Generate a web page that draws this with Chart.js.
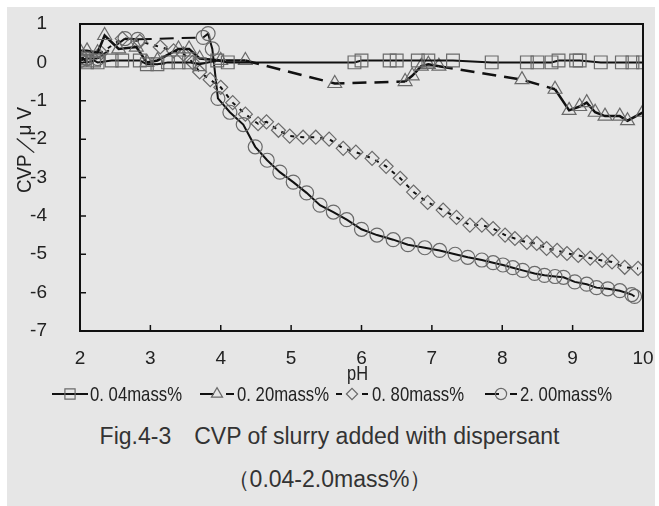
<!DOCTYPE html>
<html>
<head>
<meta charset="utf-8">
<script src="https://cdn.jsdelivr.net/npm/chart.js@4.4.0/dist/chart.umd.min.js"></script>
<style>
  body { margin: 0; background: #fff; }
  #wrap { position: absolute; left: 7px; top: 7px; width: 648px; height: 499px; background: #e6e6e6; }
  #chart { position: absolute; left: 0; top: 0; }
  .cap { position: absolute; left: 0; width: 659px; text-align: center; font-family: "Liberation Sans", Arial, sans-serif; color: #333; font-size: 23px; }
</style>
</head>
<body>
<div id="wrap"></div>
<canvas id="chart" width="659" height="410"></canvas>
<div class="cap" style="top:423px">Fig.4-3&emsp;CVP of slurry added with dispersant</div>
<div class="cap" style="top:464px">（0.04-2.0mass%）</div>
<script>
// series names
const seriesNames = ['0. 04mass%', '0. 20mass%', '0. 80mass%', '2. 00mass%'];

// axis ticks
const xTicks = [2, 3, 4, 5, 6, 7, 8, 9, 10];
const yTicks = [-7, -6, -5, -4, -3, -2, -1, 0, 1];

// 0.04mass%
const ph004  = [2.0, 2.05, 2.1, 2.2, 2.25, 2.45, 2.6, 2.85, 2.95, 3.1, 3.25, 3.4, 3.55, 3.7, 3.95, 4.1,
                5.9, 6.0, 6.4, 6.5, 6.8, 6.95, 7.3, 7.85, 8.35, 8.5, 8.7, 8.8, 9.05, 9.1, 9.4, 9.7, 9.85, 10.0];
const cvp004 = [0.05, 0.1, 0.0, 0.05, 0.0, 0.05, 0.05, 0.05, -0.05, -0.05, 0.0, 0.0, 0.0, -0.05, 0.05, 0.0,
                0.0, 0.05, 0.05, 0.05, 0.05, 0.05, 0.05, 0.0, 0.0, 0.0, 0.0, 0.05, 0.05, 0.05, 0.0, 0.0, 0.0, 0.0];

// 0.20mass%
const ph020  = [2.0, 2.1, 2.25, 2.35, 2.55, 2.8, 2.95, 3.1, 3.4, 3.55, 3.7, 4.0, 4.35,
                5.62, 6.62, 6.72, 6.85, 6.95, 7.1, 8.28, 8.75, 8.95, 9.1, 9.2, 9.32, 9.46, 9.67, 9.78, 10.0];
const cvp020 = [0.3, 0.3, 0.25, 0.7, 0.35, 0.4, 0.0, 0.05, 0.35, 0.35, 0.1, 0.05, 0.05,
                -0.55, -0.5, -0.35, -0.1, -0.05, -0.1, -0.45, -0.7, -1.25, -1.15, -1.05, -1.3, -1.4, -1.4, -1.52, -1.3];

// 0.80mass%
const ph080  = [2.0, 2.3, 2.6, 2.85, 3.14, 3.33, 3.47, 3.6, 3.7, 3.85, 4.0, 4.17, 4.35, 4.53, 4.65, 4.82, 4.98,
                5.17, 5.35, 5.54, 5.74, 5.92, 6.15, 6.35, 6.55, 6.74, 6.94, 7.16, 7.35, 7.54, 7.71, 7.87,
                8.04, 8.18, 8.35, 8.49, 8.63, 8.78, 8.92, 9.08, 9.25, 9.42, 9.56, 9.74, 9.93];
const cvp080 = [0.1, 0.25, 0.62, 0.55, 0.4, 0.3, 0.22, 0.0, -0.25, -0.45, -0.65, -1.05, -1.35, -1.6, -1.55, -1.77, -1.92,
                -1.95, -1.95, -2.0, -2.24, -2.34, -2.5, -2.71, -3.02, -3.38, -3.65, -3.85, -4.04, -4.24, -4.24, -4.33,
                -4.5, -4.59, -4.69, -4.72, -4.85, -4.9, -4.98, -5.03, -5.1, -5.16, -5.2, -5.34, -5.37];

// 2.00mass%
const ph200  = [2.0, 2.1, 2.25, 2.64, 2.82, 3.75, 3.82, 3.88, 3.96, 4.13, 4.32, 4.49, 4.66, 4.84, 5.03, 5.22, 5.41,
                5.6, 5.79, 6.0, 6.22, 6.45, 6.66, 6.9, 7.11, 7.33, 7.51, 7.71, 7.87, 8.01, 8.15, 8.29,
                8.46, 8.6, 8.75, 8.87, 9.03, 9.2, 9.34, 9.5, 9.67, 9.84, 9.88];
const cvp200 = [0.05, 0.1, 0.1, 0.62, 0.6, 0.65, 0.75, 0.35, -0.94, -1.3, -1.62, -2.2, -2.55, -2.86, -3.12, -3.4, -3.72,
                -3.9, -4.1, -4.35, -4.5, -4.62, -4.75, -4.83, -4.9, -5.0, -5.08, -5.15, -5.22, -5.28, -5.35, -5.42,
                -5.5, -5.55, -5.58, -5.6, -5.72, -5.78, -5.87, -5.9, -5.95, -6.05, -6.1];

const toPts = (xs, ys) => xs.map((x, i) => ({ x: x, y: ys[i] }));
const gapDash = ctx => (ctx.p1.parsed.x - ctx.p0.parsed.x > 0.35 ? [14, 8] : undefined);
const sans = '"Liberation Sans", Arial, sans-serif';

const styles = [
  { pointStyle: 'rect', radius: 9, lineWidth: 2, dash: [], gap: false },
  { pointStyle: 'triangle', radius: 8, lineWidth: 2.5, dash: [], gap: true },
  { pointStyle: 'rectRot', radius: 7, lineWidth: 2, dash: [4, 6], gap: false },
  { pointStyle: 'circle', radius: 7, lineWidth: 2, dash: [], gap: true }
];
const allData = [toPts(ph004, cvp004), toPts(ph020, cvp020), toPts(ph080, cvp080), toPts(ph200, cvp200)];

const datasets = allData.map((pts, i) => ({
  label: seriesNames[i],
  data: pts,
  borderColor: '#111',
  borderWidth: styles[i].lineWidth,
  borderDash: styles[i].dash,
  segment: styles[i].gap ? { borderDash: gapDash } : {},
  pointStyle: styles[i].pointStyle,
  pointRadius: styles[i].radius,
  pointBorderColor: '#6a6a6a',
  pointBorderWidth: 1.2,
  pointBackgroundColor: 'rgba(0,0,0,0)',
  tension: 0,
  fill: false
}));

// text squeezed to a width, like the narrow gothic of the original
function narrowText(ctx, text, x, y, width) {
  const w = ctx.measureText(text).width;
  ctx.save();
  ctx.translate(x, y);
  ctx.scale(width / w, 1);
  ctx.fillText(text, 0, 0);
  ctx.restore();
}

// frame, inward ticks, axis titles and the legend row
const decor = {
  id: 'decor',
  afterDraw(chart) {
    const ctx = chart.ctx;
    const a = chart.chartArea;
    const xs = chart.scales.x, ys = chart.scales.y;
    ctx.save();
    ctx.strokeStyle = '#111';
    ctx.lineWidth = 2;
    ctx.strokeRect(a.left, a.top, a.right - a.left, a.bottom - a.top);
    ctx.lineWidth = 1.5;
    ctx.beginPath();
    yTicks.forEach(v => { const y = ys.getPixelForValue(v); ctx.moveTo(a.left, y); ctx.lineTo(a.left + 6, y); });
    xTicks.forEach(v => { const x = xs.getPixelForValue(v); ctx.moveTo(x, a.bottom); ctx.lineTo(x, a.bottom - 6); });
    ctx.stroke();

    ctx.fillStyle = '#222';
    ctx.font = '21px ' + sans;
    ctx.textAlign = 'left';
    ctx.textBaseline = 'middle';
    narrowText(ctx, 'pH', 347, 374, 21);
    ctx.save();
    ctx.translate(25, 193);
    ctx.rotate(-Math.PI / 2);
    narrowText(ctx, 'CVP／μ V', 0, 0, 86);
    ctx.restore();

    // legend
    const ly = 394;
    const items = [
      { x: 52, w: 36, mx: 70, text: 90, tail: null },
      { x: 200, w: 14, mx: 217, text: 237, tail: [226, 234] },
      { x: 336, w: 0, mx: 352, text: 372, tail: null, dots: [[336, 342], [362, 368]] },
      { x: 485, w: 14, mx: 501, text: 520, tail: [510, 517] }
    ];
    items.forEach((it, i) => {
      ctx.strokeStyle = '#111';
      ctx.lineWidth = 2;
      ctx.setLineDash([]);
      ctx.beginPath();
      if (it.w) { ctx.moveTo(it.x, ly); ctx.lineTo(it.x + it.w, ly); }
      if (it.tail) { ctx.moveTo(it.tail[0], ly); ctx.lineTo(it.tail[1], ly); }
      if (it.dots) it.dots.forEach(d => { ctx.moveTo(d[0], ly); ctx.lineTo(d[1], ly); });
      ctx.stroke();
      ctx.strokeStyle = '#6a6a6a';
      ctx.fillStyle = 'rgba(0,0,0,0)';
      ctx.lineWidth = 1.2;
      Chart.helpers.drawPoint(ctx, { pointStyle: styles[i].pointStyle, radius: styles[i].radius * 0.8, rotation: 0, borderWidth: 1.2 }, it.mx, ly);
      ctx.fillStyle = '#222';
      ctx.font = '21px ' + sans;
      ctx.textAlign = 'left';
      narrowText(ctx, seriesNames[i], it.text, ly + 1, 92);
    });
    ctx.restore();
  }
};

new Chart(document.getElementById('chart'), {
  type: 'line',
  data: { datasets: datasets },
  options: {
    responsive: false,
    animation: false,
    layout: { padding: { left: 7, top: 24, right: 16, bottom: 39 } },
    plugins: { legend: { display: false }, tooltip: { enabled: false } },
    scales: {
      x: {
        type: 'linear', min: 2, max: 10,
        afterFit: s => { s.height = 40; s.paddingLeft = 0; s.paddingRight = 0; },
        afterBuildTicks: s => { s.ticks = xTicks.map(v => ({ value: v })); },
        grid: { display: false },
        border: { display: false },
        ticks: { color: '#222', padding: 8, maxRotation: 0, font: { family: sans, size: 19 } }
      },
      y: {
        type: 'linear', min: -7, max: 1,
        afterFit: s => { s.width = 73; s.paddingTop = 0; s.paddingBottom = 0; },
        afterBuildTicks: s => { s.ticks = yTicks.map(v => ({ value: v })); },
        grid: { display: false },
        border: { display: false },
        ticks: { color: '#222', padding: 25, font: { family: sans, size: 19 } }
      }
    }
  },
  plugins: [decor]
});
</script>
</body>
</html>
